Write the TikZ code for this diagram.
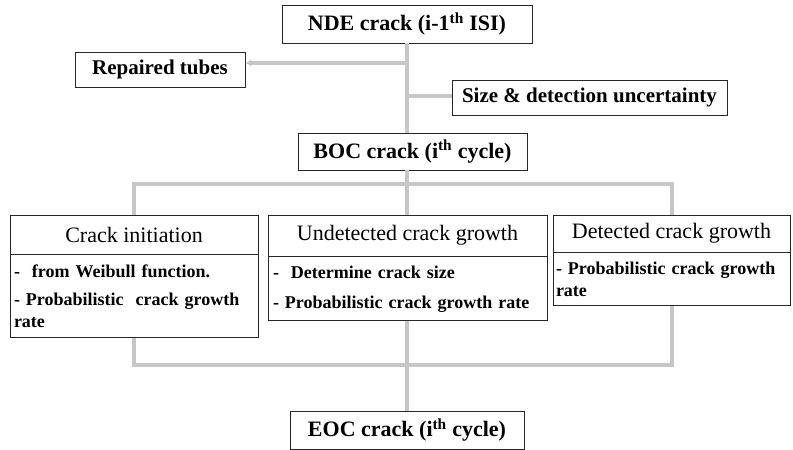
\documentclass[tikz,border=0pt]{standalone}
\usepackage{fontspec}
\setmainfont{Liberation Serif}
\usetikzlibrary{arrows.meta}

\begin{document}
\begin{tikzpicture}[x=1pt,y=-1pt,
  box/.style={draw=black!85,line width=0.9pt,inner sep=0pt,align=center},
  title/.style={box,font=\fontsize{22}{26}\selectfont\bfseries},
  note/.style={box,font=\fontsize{21}{24}\selectfont\bfseries},
  head/.style={box,font=\fontsize{22}{26}\selectfont},
  body/.style={box,font=\fontsize{18}{22}\selectfont\bfseries,align=left,inner xsep=4pt},
  flow/.style={draw=black!22,line width=4pt}]
\useasboundingbox (0,0) rectangle (793,450);

\node[title,minimum width=250pt,minimum height=38pt] (nde) at (407,24) {NDE crack (i-1\textsuperscript{th} ISI)};
\node[note,minimum width=170pt,minimum height=35pt] (rep) at (160,69.5) {Repaired tubes};
\node[note,minimum width=275pt,minimum height=35pt] (unc) at (589.5,97.5) {Size \& detection uncertainty};
\node[title,minimum width=229pt,minimum height=37pt] (boc) at (412.5,151.5) {BOC crack (i\textsuperscript{th} cycle)};

\node[head,minimum width=248pt,minimum height=39pt] (ini) at (134,234.5) {Crack initiation};
\node[body,text width=240pt,minimum height=83pt,anchor=north] (inib) at (ini.south)
  {-\ \ from Weibull function.\\[6pt] - Probabilistic\ \ crack growth\\ rate};
\node[head,minimum width=279pt,minimum height=41pt] (und) at (407.5,235.5) {Undetected crack growth};
\node[body,text width=269pt,inner xsep=5pt,minimum height=64pt,anchor=north] (undb) at (und.south)
  {-\ \ Determine crack size\\[8pt] - Probabilistic crack growth rate};
\node[head,minimum width=237pt,minimum height=37pt] (det) at (671.5,233.5) {Detected crack growth};
\node[body,text width=231pt,inner xsep=3pt,minimum height=53pt,anchor=north] (detb) at (det.south)
  {- Probabilistic crack growth\\ rate};

\node[title,minimum width=234pt,minimum height=38pt] (eoc) at (407,430) {EOC crack (i\textsuperscript{th} cycle)};

% junctions on the main axis
\coordinate (jrep) at (407,63);
\coordinate (junc) at (407,96);
\coordinate (split) at (407,184);
\coordinate (merge) at (407,365);

\draw[flow] (nde.south) -- (nde.south |- boc.north);
\draw[flow,-{Latex[length=6pt,width=8pt]}] (jrep) -- (jrep -| rep.east);
\draw[flow] (unc.west |- junc) -- (junc);
\draw[flow] (split |- boc.south) -- (split);
\draw[flow] (ini.north) |- (split) -| (det.north);
\draw[flow] (split) -- (split |- und.north);
\draw[flow] (inib.south) |- (merge) -| (detb.south);
\draw[flow] (merge |- undb.south) -- (merge) -- (eoc.north);
\end{tikzpicture}
\end{document}
